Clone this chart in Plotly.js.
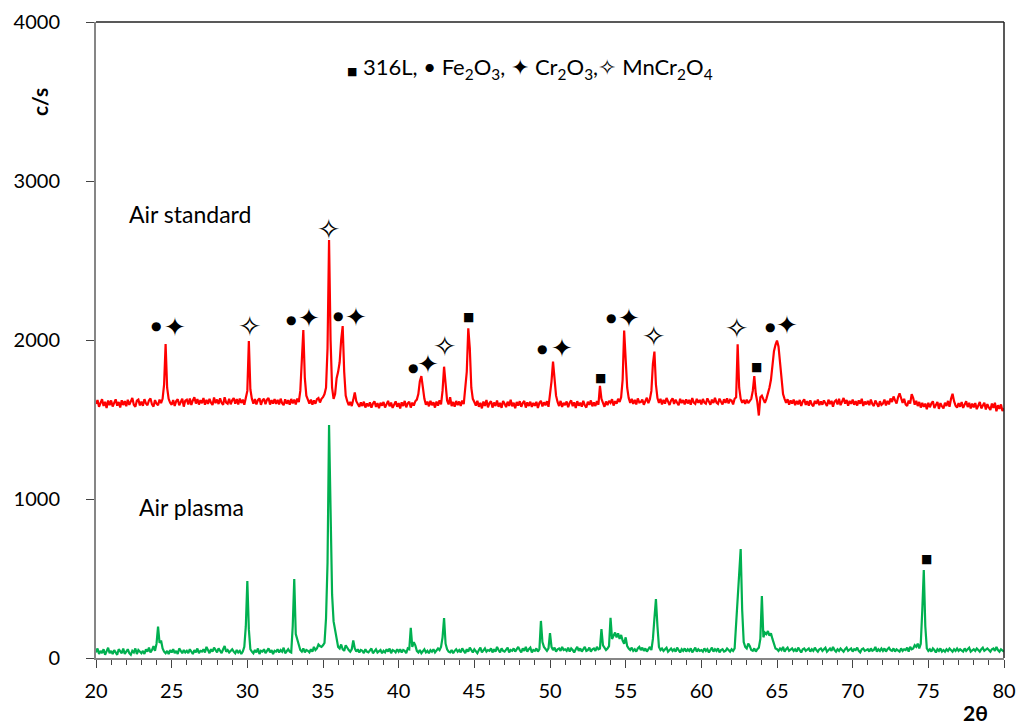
<!DOCTYPE html>
<html>
<head>
<meta charset="utf-8">
<script src="https://cdn.plot.ly/plotly-3.0.1.min.js"></script>
<style>html,body{margin:0;padding:0;background:#fff;}#chart{width:1024px;height:724px;}</style>
</head>
<body>
<div id="chart"></div>
<script>
// 2θ sampling grid of the scans: 20.0 .. 80.0 in 0.1° steps
const twoThetaStart = 20.0;
const twoThetaStep = 0.1;

// Air standard (c/s), one row per degree (x.0 .. x.9), final value at 80.0
const airStandard = [
 1598,1622,1580,1609,1628,1585,1611,1572,1619,1590,
 1620,1582,1608,1627,1587,1610,1576,1621,1591,1616,
 1584,1624,1592,1613,1635,1593,1580,1618,1625,1589,
 1612,1586,1628,1601,1590,1620,1632,1595,1581,1622,
 1600,1590,1625,1603,1630,1720,1975,1700,1630,1605,
 1593,1622,1585,1616,1627,1590,1613,1630,1581,1619,
 1625,1595,1632,1591,1620,1640,1600,1628,1594,1622,
 1602,1635,1593,1624,1598,1630,1606,1591,1638,1603,
 1626,1597,1633,1605,1593,1640,1607,1600,1630,1596,
 1621,1635,1599,1628,1595,1632,1604,1625,1593,1640,
 1680,1994,1690,1630,1600,1628,1595,1622,1633,1592,
 1620,1630,1597,1625,1636,1594,1622,1600,1628,1598,
 1624,1595,1631,1603,1590,1627,1599,1622,1593,1629,
 1602,1625,1595,1632,1610,1680,1850,2063,1760,1650,
 1625,1600,1625,1593,1620,1599,1628,1635,1607,1630,
 1640,1660,1700,1950,2629,2000,1700,1630,1660,1760,
 1800,1860,2000,2088,1800,1650,1615,1590,1610,1585,
 1625,1670,1615,1593,1580,1607,1585,1612,1575,1601,
 1583,1608,1574,1600,1615,1579,1603,1571,1605,1587,
 1610,1575,1602,1617,1583,1606,1573,1599,1614,1580,
 1603,1570,1608,1585,1617,1577,1601,1612,1575,1606,
 1588,1615,1625,1660,1740,1773,1700,1630,1593,1612,
 1583,1617,1590,1608,1575,1613,1587,1620,1595,1680,
 1832,1700,1620,1595,1640,1585,1610,1580,1617,1591,
 1613,1585,1620,1597,1680,1800,2073,1950,1700,1630,
 1610,1587,1618,1580,1605,1570,1613,1585,1622,1577,
 1603,1615,1575,1607,1585,1620,1580,1605,1573,1617,
 1599,1578,1612,1585,1625,1583,1605,1571,1610,1587,
 1615,1580,1603,1617,1575,1608,1585,1612,1579,1604,
 1586,1611,1573,1605,1617,1582,1608,1589,1615,1580,
 1660,1740,1864,1760,1650,1610,1585,1617,1579,1605,
 1590,1613,1577,1605,1620,1584,1608,1572,1615,1587,
 1606,1581,1617,1589,1575,1611,1592,1620,1583,1607,
 1585,1616,1593,1712,1630,1605,1580,1613,1591,1617,
 1605,1627,1588,1615,1600,1630,1610,1640,1750,2059,
 1900,1700,1635,1605,1630,1598,1623,1595,1632,1607,
 1610,1625,1593,1620,1637,1603,1627,1680,1850,1927,
 1720,1635,1605,1630,1595,1623,1600,1635,1607,1591,
 1620,1633,1598,1625,1605,1590,1630,1603,1622,1595,
 1627,1601,1623,1593,1635,1607,1599,1630,1605,1623,
 1595,1629,1607,1600,1633,1610,1593,1625,1604,1637,
 1606,1598,1631,1612,1595,1627,1605,1633,1601,1624,
 1619,1595,1630,1640,1973,1700,1630,1605,1623,1599,
 1625,1603,1620,1630,1680,1773,1660,1610,1525,1640,
 1650,1625,1605,1630,1660,1700,1750,1850,1930,1970,
 1996,1960,1850,1720,1660,1630,1605,1627,1593,1620,
 1600,1625,1590,1617,1595,1623,1585,1613,1627,1592,
 1615,1587,1620,1595,1583,1617,1599,1625,1590,1613,
 1593,1620,1599,1585,1625,1597,1617,1581,1613,1622,
 1595,1630,1590,1615,1635,1600,1623,1587,1617,1599,
 1625,1593,1615,1588,1620,1599,1630,1585,1613,1595,
 1617,1590,1625,1598,1585,1619,1595,1580,1615,1592,
 1600,1625,1589,1617,1595,1632,1610,1645,1620,1600,
 1640,1665,1635,1605,1630,1595,1585,1620,1600,1660,
 1635,1593,1617,1585,1610,1575,1605,1580,1600,1565,
 1605,1577,1600,1615,1573,1595,1610,1567,1603,1583,
 1570,1605,1585,1617,1580,1630,1662,1615,1587,1575,
 1603,1580,1610,1573,1597,1615,1578,1605,1570,1600,
 1577,1603,1565,1595,1610,1570,1593,1605,1563,1597,
 1575,1560,1600,1573,1605,1552,1590,1567,1595,1553,
 1570
];

// Air plasma (c/s)
const airPlasma = [
 35,60,25,45,30,55,20,40,65,30,
 45,25,50,35,20,55,40,30,60,25,
 40,55,30,20,45,35,60,25,50,40,
 30,45,25,55,40,65,35,50,75,45,
 90,197,95,110,60,40,30,45,25,50,
 35,55,30,45,25,60,40,30,50,35,
 45,30,55,40,25,50,35,60,30,45,
 40,55,35,70,45,30,55,40,65,50,
 35,60,45,30,55,75,40,50,35,45,
 55,40,30,50,35,45,25,40,70,200,
 484,180,55,40,30,50,35,60,25,45,
 40,55,30,45,60,35,50,25,45,40,
 55,35,50,40,65,30,45,55,40,35,
 200,497,150,120,80,50,40,60,35,50,
 45,35,55,40,70,50,60,85,75,70,
 80,95,250,600,1465,760,400,230,180,120,
 70,60,85,55,45,80,60,50,40,55,
 110,60,40,55,35,50,45,30,55,40,
 35,50,60,30,45,55,35,40,50,30,
 45,35,55,40,60,30,50,45,35,55,
 40,55,35,50,45,30,60,55,190,70,
 100,80,45,35,50,30,40,55,35,45,
 30,50,40,55,35,45,60,50,70,130,
 251,90,55,40,35,50,30,45,55,40,
 50,35,60,45,30,55,40,65,45,35,
 55,40,30,50,65,35,45,60,40,50,
 45,60,35,55,40,70,50,35,60,45,
 40,55,65,35,50,45,60,40,55,70,
 50,35,60,45,70,40,55,65,35,50,
 45,60,40,55,233,100,70,55,45,60,
 157,70,50,65,40,55,60,45,70,50,
 55,45,65,40,60,50,35,55,70,45,
 60,40,55,70,45,50,65,40,55,60,
 45,70,55,60,182,80,65,50,60,75,
 253,120,140,160,130,155,120,145,110,90,
 130,75,60,50,65,45,55,40,60,70,
 50,65,45,60,40,55,70,50,120,250,
 371,200,70,50,60,45,55,65,40,50,
 60,45,55,40,65,50,35,55,45,60,
 40,55,45,60,35,50,65,40,55,45,
 50,40,60,45,55,35,50,65,40,55,
 45,60,35,50,55,40,45,60,50,40,
 55,45,60,200,350,511,685,300,100,70,
 60,90,75,50,45,60,40,55,65,120,
 390,130,160,150,170,140,155,120,90,60,
 55,45,60,50,70,40,55,65,45,50,
 60,45,55,40,65,50,35,55,60,45,
 50,60,40,55,45,65,50,40,55,60,
 45,55,65,40,50,60,45,70,50,40,
 55,45,60,50,40,55,65,45,50,60,
 40,55,50,65,45,35,55,60,45,50,
 55,40,60,45,50,70,40,55,45,60,
 45,60,40,55,65,50,45,60,40,55,
 50,40,60,45,55,50,65,40,70,55,
 60,80,70,90,60,90,300,553,200,60,
 45,55,40,60,50,35,55,45,60,40,
 50,40,55,45,60,50,40,55,45,60,
 45,55,50,40,60,45,55,65,40,50,
 55,45,60,50,40,55,65,45,50,60,
 50,40,55,60,45,70,50,40,55,45,
 40
];

// Phase labels over the peaks: position (2θ, c/s) and phase
const peakLabelX = [23.96,25.2,30.13,32.87,34.07,35.35,36.0,37.2,40.97,41.96,43.02,44.6,49.5,50.77,53.35,54.0,55.22,56.83,62.34,63.66,64.52,65.64,74.9];
const peakLabelY = [2090,2084,2084,2126,2140,2692,2153,2147,1826,1847,1962,2147,1942,1952,1759,2140,2140,2021,2073,1828,2084,2094,623];
const peakLabelPhase = ['Fe2O3','Cr2O3','MnCr2O4','Fe2O3','Cr2O3','MnCr2O4','Fe2O3','Cr2O3','Fe2O3','Cr2O3','MnCr2O4','316L','Fe2O3','Cr2O3','316L','Fe2O3','Cr2O3','MnCr2O4','MnCr2O4','316L','Fe2O3','Cr2O3','316L'];

const xTickVals = [20,25,30,35,40,45,50,55,60,65,70,75,80];
const yTickVals = [0,1000,2000,3000,4000];

const seriesNames = ['Air standard','Air plasma'];

function grid(n){ const a=[]; for(let i=0;i<n;i++) a.push(+(twoThetaStart+i*twoThetaStep).toFixed(1)); return a; }

const phaseGlyph = {'316L':'\u25A0','Fe2O3':'\u25CF','Cr2O3':'\u2726','MnCr2O4':'\u2727'};
const phaseSize  = {'316L':12,'Fe2O3':12,'Cr2O3':26,'MnCr2O4':28};

const traces = [
 {x:grid(airStandard.length), y:airStandard, type:'scatter', mode:'lines', name:seriesNames[0],
  line:{color:'#ff0000', width:2.2}, showlegend:false, hoverinfo:'x+y'},
 {x:grid(airPlasma.length), y:airPlasma, type:'scatter', mode:'lines', name:seriesNames[1],
  line:{color:'#00b050', width:2.2}, showlegend:false, hoverinfo:'x+y'}
];

const annotations = peakLabelX.map((x,i)=>({
  x:x, y:peakLabelY[i], xref:'x', yref:'y', showarrow:false,
  text:phaseGlyph[peakLabelPhase[i]], xanchor:'center', yanchor:'middle',
  font:{family:'DejaVu Sans', size:phaseSize[peakLabelPhase[i]], color:'#000'}
}));

const L=96, R=20, T=22, B=66, W=1024, H=724;
const pw=W-L-R, ph=H-T-B;

annotations.push(
 {x:22.05, y:2792, xref:'x', yref:'y', showarrow:false, xanchor:'left', yanchor:'middle',
  text:seriesNames[0], font:{family:'Lato', size:23, color:'#000'}},
 {x:22.71, y:950, xref:'x', yref:'y', showarrow:false, xanchor:'left', yanchor:'middle',
  text:seriesNames[1], font:{family:'Lato', size:23, color:'#000'}},
 {x:48.7, y:3710, xref:'x', yref:'y', showarrow:false, xanchor:'center', yanchor:'middle',
  text:'<span style="font-family:DejaVu Sans;font-size:11px">\u25A0</span> 316L, \u2022 Fe<sub>2</sub>O<sub>3</sub>, <span style="font-family:DejaVu Sans">\u2726</span> Cr<sub>2</sub>O<sub>3</sub>,<span style="font-family:DejaVu Sans">\u2727</span> MnCr<sub>2</sub>O<sub>4</sub>',
  font:{family:'Lato', size:22, color:'#000'}},
 {x:(40-L)/pw, y:(H-B-102)/ph, xref:'paper', yref:'paper', showarrow:false, text:'<b>c/s</b>', textangle:-90,
  xanchor:'center', yanchor:'middle', font:{family:'Lato', size:21, color:'#000'}},
 {x:(975-L)/pw, y:(H-B-712)/ph, xref:'paper', yref:'paper', showarrow:false, text:'<b>2θ</b>',
  xanchor:'center', yanchor:'middle', font:{family:'Lato', size:21, color:'#000'}}
);

const layout = {
 width:W, height:H,
 margin:{l:L, r:R, t:T, b:B, pad:0},
 paper_bgcolor:'#ffffff', plot_bgcolor:'#ffffff',
 showlegend:false,
 xaxis:{range:[20,80], tickvals:xTickVals, ticktext:xTickVals.map(String),
   ticks:'outside', ticklen:8, tickwidth:1, tickcolor:'#444',
   minor:{dtick:1, tick0:20, ticks:'outside', ticklen:5, tickcolor:'#444', tickwidth:1, showgrid:false},
   showline:true, linecolor:'#868686', linewidth:2, showgrid:false, zeroline:false,
   tickfont:{family:'Lato', size:20, color:'#000'}, ticklabelstandoff:6, fixedrange:true},
 yaxis:{range:[0,4000], tickvals:yTickVals, ticktext:yTickVals.map(String),
   ticks:'outside', ticklen:8, tickwidth:1, tickcolor:'#444',
   showline:true, linecolor:'#868686', linewidth:2, showgrid:false, zeroline:false,
   tickfont:{family:'Lato', size:20, color:'#000'}, ticklabelstandoff:22, fixedrange:true},
 shapes:[
   {type:'line', xref:'paper', yref:'paper', x0:0, x1:1, y0:1, y1:1, line:{color:'#222', width:1.5}},
   {type:'line', xref:'paper', yref:'paper', x0:1, x1:1, y0:0, y1:1, line:{color:'#222', width:1.5}}
 ],
 annotations:annotations
};

Plotly.newPlot('chart', traces, layout, {displayModeBar:false, staticPlot:true});
</script>
</body>
</html>
